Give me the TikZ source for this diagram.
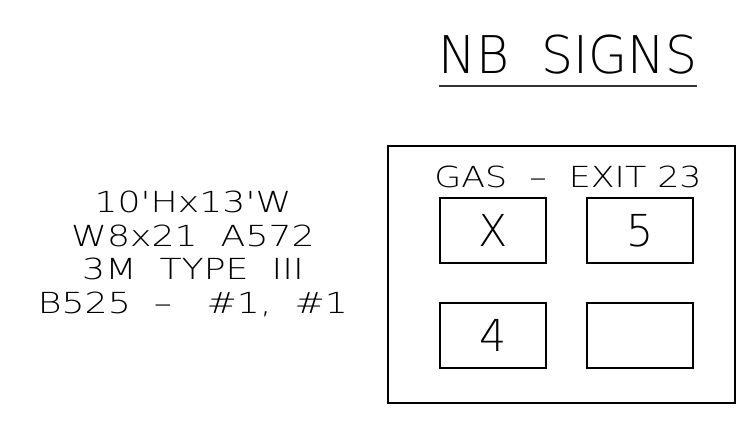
\documentclass[tikz,border=0pt]{standalone}
\usepackage{fontspec}
\newfontfamily\cad[FakeStretch=1.2]{DejaVu Sans ExtraLight}
\newfontfamily\cadw[FakeStretch=1.25]{DejaVu Sans ExtraLight}
\newfontfamily\cadn[FakeStretch=0.97]{DejaVu Sans ExtraLight}
\usetikzlibrary{positioning}

\begin{document}
\begin{tikzpicture}[x=1pt,y=-1pt,font=\cad,
    signbox/.style={draw=black, line width=2.6pt, minimum width=106pt, minimum height=65pt, inner sep=0pt, font=\cadn\fontsize{44}{44}\selectfont},
    frame/.style={draw=black, line width=2.8pt, minimum width=347pt, minimum height=257pt, inner sep=0pt},
    note/.style={inner sep=0pt, font=\cad\fontsize{29}{33.4}\selectfont}]
        \useasboundingbox (0,0) rectangle (751,424);
        \node [inner sep=0pt, anchor=base, font=\cadn\fontsize{52}{52}\selectfont] at (568,73) (title) {NB\ \ SIGNS};
        \draw [line width=1.8pt, black!80] ([yshift=-13pt]title.base west) -- ([yshift=-13pt]title.base east);
        \node [frame] at (561.5,274.5) (panel) {};
        \node [note, anchor=base] at (568,187) (exit) {GAS\ \ –\ \ EXIT\ 23};
        \node [signbox] at (493,230.5) (tl) {X};
        \node [signbox] at (640,230.5) (tr) {5};
        \node [signbox] at (493,335.5) (bl) {4};
        \node [signbox] at (640,335.5) (br) {};
        \node [note, font=\cadw\fontsize{29}{33.4}\selectfont, align=center, anchor=base] at (193,313) (spec) {10'Hx13'W\\W8x21\ \ A572\\3M\ \ TYPE\ \ III\\B525\ \ –\ \ \ \#1,\ \ \#1};
\end{tikzpicture}
\end{document}
